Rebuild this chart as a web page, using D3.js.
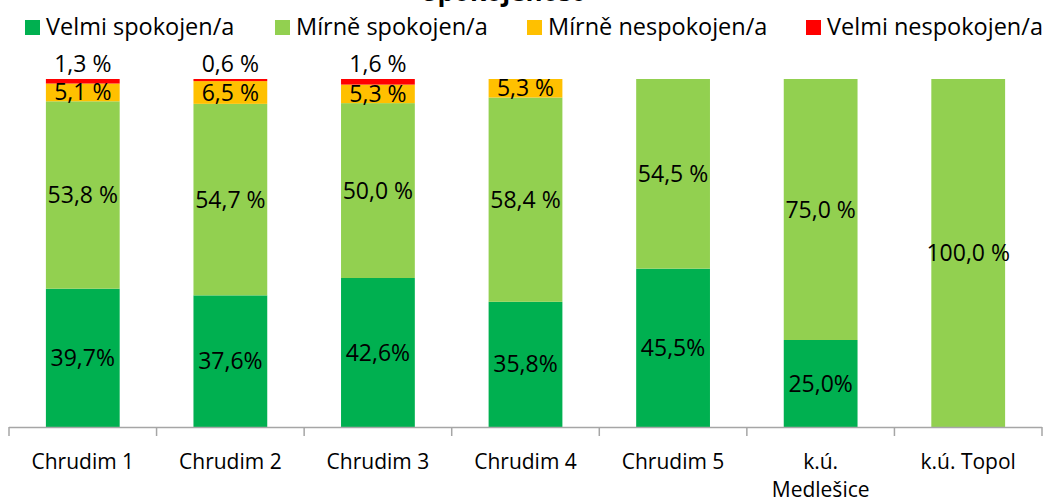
<!DOCTYPE html>
<html>
<head>
<meta charset="utf-8">
<script src="https://cdn.jsdelivr.net/npm/d3@7"></script>
<style>
  body { margin: 0; background: #fff; }
  text { font-family: "Open Sans", sans-serif; fill: #000; }
</style>
</head>
<body>
<div id="chart"></div>
<script>
const categories = ["Chrudim 1", "Chrudim 2", "Chrudim 3", "Chrudim 4", "Chrudim 5", "k.ú. Medlešice", "k.ú. Topol"];
const velmiSpokojen = [39.7, 37.6, 42.6, 35.8, 45.5, 25.0, 0];
const mirneSpokojen = [53.8, 54.7, 50.0, 58.4, 54.5, 75.0, 100.0];
const mirneNespokojen = [5.1, 6.5, 5.3, 5.3, 0, 0, 0];
const velmiNespokojen = [1.3, 0.6, 1.6, 0, 0, 0, 0];
const seriesNames = ["Velmi spokojen/a", "Mírně spokojen/a", "Mírně nespokojen/a", "Velmi nespokojen/a"];
const colors = ["#00B050", "#92D050", "#FFC000", "#FF0000"];
const title = "Spokojenost";

const width = 1046, height = 504;

let svg = d3.select("#chart").append("svg")
    .attr("width", width)
    .attr("height", height);

// title, mostly hidden above the top edge (as in the original)
svg.append("text")
    .attr("x", 503)
    .attr("y", 1)
    .attr("text-anchor", "middle")
    .style("font-weight", "bold")
    .style("font-size", "26px")
    .text(title);

// rows for d3.stack
const keys = ["vs", "ms", "mn", "vn"];
const rows = categories.map((c, i) => ({
    cat: c,
    vs: velmiSpokojen[i],
    ms: mirneSpokojen[i],
    mn: mirneNespokojen[i],
    vn: velmiNespokojen[i]
}));

const stacked = d3.stack().keys(keys).offset(d3.stackOffsetExpand)(rows);

let x = d3.scaleBand()
    .domain(categories)
    .range([9, 1042])
    .paddingInner(0.5)
    .paddingOuter(0.25);

let y = d3.scaleLinear()
    .domain([0, 1])
    .range([427, 79]);

// bars
let layers = svg.selectAll(".layer")
    .data(stacked)
    .enter()
    .append("g")
    .attr("fill", (d, i) => colors[i]);

layers.selectAll("rect")
    .data(d => d)
    .enter()
    .append("rect")
    .attr("x", d => x(d.data.cat))
    .attr("width", x.bandwidth())
    .attr("y", d => y(d[1]))
    .attr("height", d => y(d[0]) - y(d[1]));

// value labels
const fmt = v => d3.format(".1f")(v).replace(".", ",");
stacked.forEach((layer, li) => {
    layer.forEach(d => {
        const v = d.data[keys[li]];
        if (!v) return;
        let ty = (y(d[0]) + y(d[1])) / 2;
        if (li === 3) ty = y(d[1]) - 15;  // red ones sit above the bar
        svg.append("text")
            .attr("x", x(d.data.cat) + x.bandwidth() / 2)
            .attr("y", ty)
            .attr("dy", "0.35em")
            .attr("text-anchor", "middle")
            .style("font-size", "23px")
            .text(li === 0 ? fmt(v) + "%" : fmt(v) + " %");
    });
});

// x axis with ticks between categories
const x0 = x.range()[0], x1 = x.range()[1];
let axis = svg.append("g").attr("class", "x axis");
axis.append("line")
    .attr("x1", x0).attr("x2", x1)
    .attr("y1", y(0) + 0.5).attr("y2", y(0) + 0.5)
    .attr("stroke", "#A6A6A6").attr("stroke-width", 1.5);
d3.range(categories.length + 1).forEach(i => {
    const tx = x0 + i * x.step();
    axis.append("line")
        .attr("x1", tx).attr("x2", tx)
        .attr("y1", y(0)).attr("y2", y(0) + 9)
        .attr("stroke", "#A6A6A6").attr("stroke-width", 1.5);
});

// category labels, wrapped when too wide
categories.forEach(c => {
    const cx = x(c) + x.bandwidth() / 2;
    let t = axis.append("text")
        .attr("x", cx)
        .attr("y", 469)
        .attr("text-anchor", "middle")
        .style("font-size", "21px")
        .text(c);
    if (t.node().getComputedTextLength() > 125) {
        const words = c.split(" ");
        const last = words.pop();
        t.text(null);
        t.append("tspan").attr("x", cx).text(words.join(" "));
        t.append("tspan").attr("x", cx).attr("dy", 28).text(last);
    }
});

// legend
const legendX = [25, 275, 527, 806];
seriesNames.forEach((s, i) => {
    let g = svg.append("g").attr("transform", "translate(" + legendX[i] + ",20)");
    g.append("rect").attr("width", 15).attr("height", 15).attr("fill", colors[i]);
    g.append("text")
        .attr("x", 21)
        .attr("y", 15)
        .style("font-size", "23.5px")
        .text(s);
});
</script>
</body>
</html>
